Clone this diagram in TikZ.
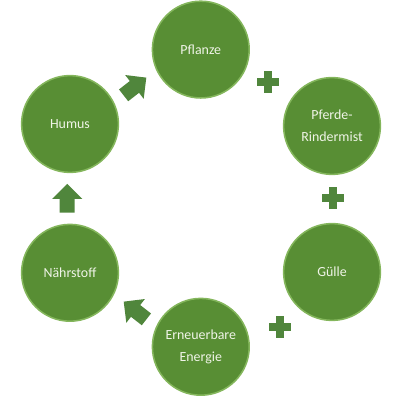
\documentclass[tikz,border=0pt]{standalone}
\usepackage{fontspec}
\setmainfont{Carlito}
\usetikzlibrary{positioning,shapes.arrows,calc}
\definecolor{leafgreen}{RGB}{88,142,52}
\definecolor{rimgreen}{RGB}{132,182,92}
\definecolor{signgreen}{RGB}{80,134,60}
\definecolor{labelwhite}{RGB}{240,244,232}

\begin{document}
\begin{tikzpicture}[
  stage/.style={circle, fill=leafgreen, draw=rimgreen, line width=1.1pt,
    minimum size=2.42cm, inner sep=0pt, align=center, text=labelwhite,
    font=\fontsize{9.9}{15.5}\selectfont},
  plusbar/.style={fill=signgreen, minimum width=0.56cm, minimum height=0.2cm, inner sep=0pt},
  flow/.style={single arrow, fill=signgreen, minimum height=0.72cm,
    text height=0.36cm, text depth=0pt, text width=0pt,
    single arrow head extend=0.19cm, single arrow head indent=0pt, inner sep=0pt}
]
\useasboundingbox (0,0) rectangle (10,10);

% the six stages of the cycle
\node[stage] (pflanze) at (5.02, 8.76) {Pflanze};
\node[stage] (mist) at (8.3, 6.85) {Pferde-\\Rindermist};
\node[stage] (guelle) at (8.3, 3.2) {Gülle};
\node[stage] (energie) at (5.02, 1.33) {Erneuerbare\\Energie};
\node[stage] (naehr) at (1.75, 3.18) {Nährstoff};
\node[stage] (humus) at (1.75, 6.9) {Humus};

% plus signs on the right side
\node[plusbar] (plusa) at (6.7, 7.95) {};
\node[plusbar, rotate=90] (plusav) at (plusa) {};
\node[plusbar] (plusb) at (8.33, 5.05) {};
\node[plusbar, rotate=90] (plusbv) at (plusb) {};
\node[plusbar] (plusc) at (7.0, 1.83) {};
\node[plusbar, rotate=90] (pluscv) at (plusc) {};

% arrows on the left side
\node[flow, rotate=142] (toNaehr) at (3.45, 2.18) {};
\node[flow, rotate=90] (toHumus) at (1.68, 4.95) {};
\node[flow, rotate=38] (toPflanze) at (3.3, 7.78) {};

\end{tikzpicture}
\end{document}
